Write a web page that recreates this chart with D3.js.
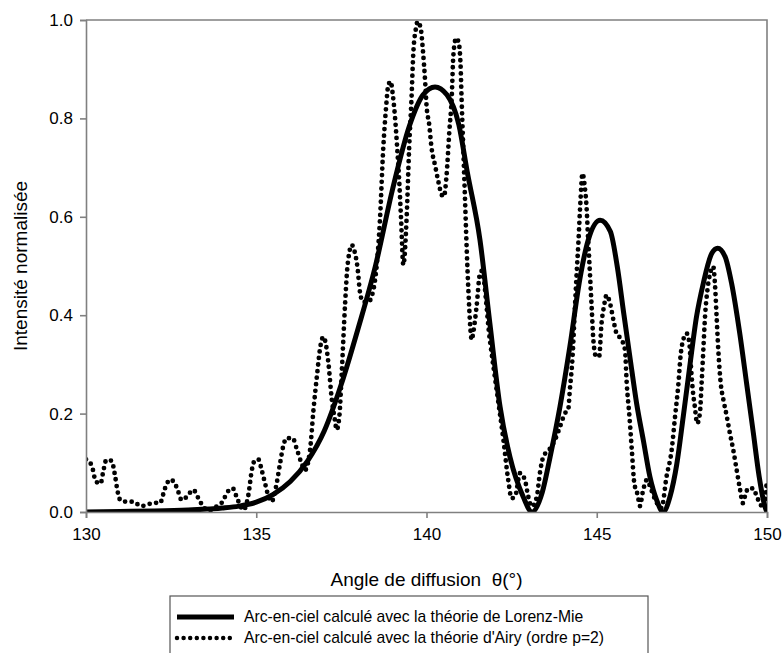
<!DOCTYPE html>
<html>
<head>
<meta charset="utf-8">
<script src="https://cdn.jsdelivr.net/npm/d3@7"></script>
<style>
  html, body { margin: 0; padding: 0; background: #fff; }
  svg { display: block; font-family: "Liberation Sans", Arial, sans-serif; }
</style>
</head>
<body>
<svg id="chart" width="784" height="653"></svg>
<script>
// Lorenz-Mie rainbow (solid curve)
const mieTheta = [130, 131, 132, 133, 134, 134.5, 135, 135.5, 136, 136.5, 137, 137.5, 138, 138.5, 139, 139.5,
  139.9, 140.25, 140.6, 140.95, 141.2, 141.57, 141.86, 142.16, 142.45, 142.84, 143.1, 143.4, 143.63, 143.92,
  144.21, 144.5, 144.75, 145.1, 145.4, 145.6, 145.8, 145.98, 146.17, 146.37, 146.56, 146.76, 146.95, 147.15,
  147.35, 147.54, 147.73, 147.93, 148.13, 148.38, 148.55, 148.77, 148.96, 149.2, 149.4, 149.6, 149.77, 149.94, 150];
const mieIntensity = [0, 0.001, 0.002, 0.004, 0.008, 0.012, 0.02, 0.036, 0.062, 0.103, 0.165, 0.26, 0.375, 0.5, 0.655, 0.785,
  0.848, 0.864, 0.848, 0.787, 0.69, 0.553, 0.384, 0.214, 0.112, 0.031, 0, 0.04, 0.112, 0.214,
  0.336, 0.472, 0.553, 0.593, 0.57, 0.5, 0.4, 0.312, 0.221, 0.145, 0.072, 0.024, 0, 0.031,
  0.097, 0.194, 0.295, 0.397, 0.465, 0.526, 0.536, 0.519, 0.465, 0.363, 0.262, 0.16, 0.072, 0.011, 0];

// Airy rainbow, order p=2 (dotted curve)
const airyTheta = [130.0, 130.17, 130.29, 130.43, 130.5, 130.6, 130.75, 130.85, 130.93, 131.02, 131.2, 131.4, 131.6,
  131.78, 131.98, 132.17, 132.32, 132.47, 132.61, 132.71, 132.81, 132.96, 133.15, 133.3, 133.43, 133.59, 133.85,
  134.03, 134.13, 134.31, 134.41, 134.55, 134.62, 134.77, 134.87, 134.95, 135.06, 135.16, 135.26, 135.36, 135.45,
  135.58, 135.7, 135.79, 135.89, 136.07, 136.19, 136.33, 136.43, 136.58, 136.68, 136.78, 136.89, 136.97, 137.05,
  137.12, 137.22, 137.31, 137.36, 137.44, 137.51, 137.61, 137.67, 137.73, 137.8, 137.9, 137.97, 138.05, 138.14,
  138.29, 138.39, 138.49, 138.55, 138.63, 138.73, 138.81, 138.88, 138.95, 139.0, 139.07, 139.14, 139.2, 139.25,
  139.32, 139.42, 139.49, 139.56, 139.61, 139.69, 139.74, 139.83, 139.89, 139.96, 140.0, 140.08, 140.15, 140.25,
  140.35, 140.45, 140.51, 140.59, 140.67, 140.74, 140.79, 140.87, 140.94, 141.0, 141.03, 141.08, 141.13, 141.18,
  141.23, 141.33, 141.37, 141.47, 141.57, 141.62, 141.86, 142.06, 142.26, 142.4, 142.5, 142.6, 142.75, 142.89,
  142.99, 143.09, 143.24, 143.33, 143.43, 143.63, 143.77, 143.92, 144.07, 144.16, 144.21, 144.29, 144.36, 144.41,
  144.46, 144.52, 144.58, 144.65, 144.7, 144.75, 144.8, 144.85, 144.9, 144.98, 145.07, 145.14, 145.21, 145.29,
  145.39, 145.49, 145.58, 145.73, 145.83, 145.88, 145.96, 146.03, 146.1, 146.2, 146.27, 146.35, 146.47, 146.6,
  146.75, 146.9, 147.05, 147.2, 147.3, 147.4, 147.46, 147.54, 147.64, 147.72, 147.76, 147.82, 147.88, 147.95,
  148.03, 148.08, 148.13, 148.18, 148.25, 148.33, 148.42, 148.47, 148.52, 148.57, 148.64, 148.72, 148.82, 148.91,
  149.01, 149.11, 149.21, 149.29, 149.35, 149.45, 149.6, 149.7, 149.79, 149.89, 149.99];
const airyIntensity = [0.107, 0.094, 0.062, 0.058, 0.08, 0.106, 0.104, 0.075, 0.041, 0.023, 0.021, 0.021, 0.012,
  0.014, 0.019, 0.018, 0.048, 0.066, 0.058, 0.041, 0.024, 0.031, 0.045, 0.028, 0.012, 0.003, 0.012,
  0.023, 0.038, 0.048, 0.033, 0.01, 0.004, 0.035, 0.085, 0.104, 0.107, 0.085, 0.058, 0.031, 0.021,
  0.051, 0.099, 0.133, 0.15, 0.15, 0.128, 0.099, 0.085, 0.126, 0.207, 0.275, 0.339, 0.356, 0.339,
  0.302, 0.228, 0.187, 0.167, 0.194, 0.282, 0.424, 0.492, 0.526, 0.543, 0.526, 0.499, 0.445, 0.427,
  0.427, 0.438, 0.472, 0.51, 0.59, 0.739, 0.82, 0.868, 0.875, 0.854, 0.807, 0.739, 0.671, 0.6,
  0.502, 0.604, 0.739, 0.841, 0.929, 0.983, 0.997, 0.983, 0.942, 0.875, 0.827, 0.787, 0.739, 0.705,
  0.671, 0.644, 0.641, 0.685, 0.773, 0.841, 0.929, 0.963, 0.956, 0.909, 0.841, 0.739, 0.638, 0.536,
  0.451, 0.35, 0.363, 0.417, 0.485, 0.49, 0.35, 0.248, 0.146, 0.065, 0.028, 0.031, 0.079, 0.065,
  0.031, 0.011, 0.031, 0.079, 0.112, 0.129, 0.146, 0.173, 0.201, 0.207, 0.248, 0.316, 0.417, 0.485,
  0.546, 0.63, 0.688, 0.66, 0.62, 0.55, 0.485, 0.417, 0.35, 0.316, 0.316, 0.383, 0.417, 0.441,
  0.424, 0.39, 0.363, 0.35, 0.329, 0.262, 0.194, 0.126, 0.06, 0.035, 0.012, 0.04, 0.065, 0.045,
  0.02, 0.008, 0.072, 0.126, 0.194, 0.262, 0.316, 0.35, 0.363, 0.343, 0.302, 0.248, 0.214, 0.18,
  0.201, 0.262, 0.329, 0.397, 0.451, 0.485, 0.499, 0.465, 0.397, 0.329, 0.262, 0.228, 0.194, 0.16,
  0.126, 0.085, 0.045, 0.018, 0.031, 0.048, 0.048, 0.031, 0.018, 0.008, 0.058];

const xTicks = [130, 135, 140, 145, 150];
const yTicks = [0.0, 0.2, 0.4, 0.6, 0.8, 1.0];

const xTitle = "Angle de diffusion  θ(°)";
const yTitle = "Intensité normalisée";
const legendLabels = [
  "Arc-en-ciel calculé avec la théorie de Lorenz-Mie",
  "Arc-en-ciel calculé avec la théorie d'Airy (ordre p=2)"
];

// ---- layout ----
const plot = { left: 86, right: 767, top: 20, bottom: 512 };
const axisColor = "#808080";
const dotPattern = "0 6.6";

const svg = d3.select("#chart");

const x = d3.scaleLinear().domain([130, 150]).range([plot.left, plot.right]);
const y = d3.scaleLinear().domain([0, 1]).range([plot.bottom, plot.top]);

// frame: top and right edges
svg.append("path")
  .attr("d", `M${plot.left},${plot.top}H${plot.right}V${plot.bottom}`)
  .attr("fill", "none")
  .attr("stroke", axisColor)
  .attr("stroke-width", 1.6);

// clip the curves to the plotting area
svg.append("clipPath").attr("id", "plotClip")
  .append("rect")
  .attr("x", plot.left).attr("y", plot.top - 4)
  .attr("width", plot.right - plot.left).attr("height", plot.bottom - plot.top + 4);

const toPoints = (xs, ys) => xs.map((t, i) => [t, ys[i]]);
const line = d3.line()
  .x(d => x(d[0]))
  .y(d => y(d[1]))
  .curve(d3.curveMonotoneX);

const curves = svg.append("g").attr("clip-path", "url(#plotClip)");

curves.append("path")
  .datum(toPoints(airyTheta, airyIntensity))
  .attr("d", line)
  .attr("fill", "none")
  .attr("stroke", "#000")
  .attr("stroke-width", 4.8)
  .attr("stroke-linecap", "round")
  .attr("stroke-dasharray", dotPattern);

curves.append("path")
  .datum(toPoints(mieTheta, mieIntensity))
  .attr("d", line)
  .attr("fill", "none")
  .attr("stroke", "#000")
  .attr("stroke-width", 5)
  .attr("stroke-linejoin", "round");

// axes
const xAxis = d3.axisBottom(x).tickValues(xTicks).tickFormat(d3.format("d")).tickSizeOuter(0).tickSize(6).tickPadding(10);
const yAxis = d3.axisLeft(y).tickValues(yTicks).tickFormat(d3.format(".1f")).tickSizeOuter(0).tickSize(6).tickPadding(7);

const gx = svg.append("g").attr("transform", `translate(0,${plot.bottom})`).call(xAxis);
const gy = svg.append("g").attr("transform", `translate(${plot.left},0)`).call(yAxis);

[gx, gy].forEach(g => {
  g.select(".domain").attr("stroke", axisColor).attr("stroke-width", 1.6);
  g.selectAll(".tick line").attr("stroke", axisColor).attr("stroke-width", 1.6);
  g.selectAll(".tick text")
    .attr("fill", "#000")
    .style("font-family", "'Liberation Sans', Arial, sans-serif")
    .style("font-size", "17px");
});

// axis titles
svg.append("text")
  .attr("x", (plot.left + plot.right) / 2)
  .attr("y", 586)
  .attr("text-anchor", "middle")
  .style("font-size", "19px")
  .style("white-space", "pre")
  .attr("xml:space", "preserve")
  .text(xTitle);

svg.append("text")
  .attr("transform", `translate(27,${(plot.top + plot.bottom) / 2}) rotate(-90)`)
  .attr("text-anchor", "middle")
  .style("font-size", "19px")
  .text(yTitle);

// legend
const legend = svg.append("g").attr("transform", "translate(170,596)");
legend.append("rect")
  .attr("x", 0).attr("y", 0)
  .attr("width", 478).attr("height", 80)
  .attr("fill", "#fff")
  .attr("stroke", "#555")
  .attr("stroke-width", 1.2);

const legendRows = [
  { label: legendLabels[0], dash: null, width: 5 },
  { label: legendLabels[1], dash: dotPattern, width: 4.5 }
];
legendRows.forEach((r, i) => {
  const cy = 21 + i * 21;
  const sample = legend.append("line")
    .attr("x1", 7).attr("x2", 64)
    .attr("y1", cy).attr("y2", cy)
    .attr("stroke", "#000")
    .attr("stroke-width", r.width)
    .attr("stroke-linecap", r.dash ? "round" : "butt");
  if (r.dash) sample.attr("stroke-dasharray", r.dash);
  legend.append("text")
    .attr("x", 74).attr("y", cy)
    .attr("dy", "0.35em")
    .style("font-size", "15.7px")
    .text(r.label);
});
</script>
</body>
</html>
